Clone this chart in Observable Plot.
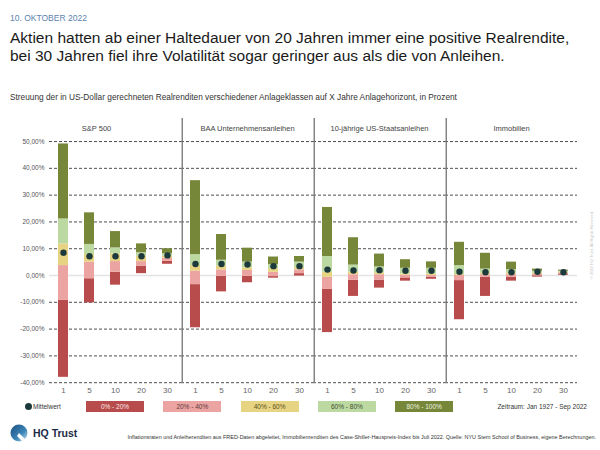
<!DOCTYPE html>
<html><head><meta charset="utf-8">
<script src="https://cdn.jsdelivr.net/npm/d3@7"></script>
<script src="https://cdn.jsdelivr.net/npm/@observablehq/plot@0.6"></script>
<style>
body{margin:0;width:600px;height:450px;position:relative;background:#fff;font-family:"Liberation Sans",Arial,Helvetica,sans-serif;overflow:hidden}
.abs{position:absolute;white-space:nowrap}
#date{left:10px;top:13px;font-size:8.5px;color:#5d83ad}
#title{left:10px;top:29px;font-size:15.5px;line-height:18px;color:#1a1a1a}
#sub{left:10px;top:92px;font-size:8.3px;color:#333}
#chart{left:0;top:110px}
#mean{left:25px;top:401px;font-size:6.5px;color:#333;display:flex;align-items:center;height:11px}
#mean span.d{display:inline-block;width:7px;height:7px;border-radius:50%;background:#1c3a3c;margin-right:1px}
#legend{left:86px;top:401px;display:flex;gap:19.3px}
#legend div{width:58px;height:11px;line-height:11px;text-align:center;font-size:6.5px}
#period{right:13px;top:403px;font-size:6.5px;color:#333}
#logo{left:10px;top:424px}
#brand{left:33px;top:427px;font-size:10.5px;font-weight:bold;color:#1b2b45}
#foot{right:4px;top:434px;font-size:5.45px;color:#333}
#copy{left:591px;top:245px;font-size:4px;color:#c4c4c4;transform:translate(-50%,-50%) rotate(-90deg);transform-origin:center}
</style></head>
<body>
<div id="date" class="abs">10. OKTOBER 2022</div>
<div id="title" class="abs">Aktien hatten ab einer Haltedauer von 20 Jahren immer eine positive Realrendite,<br>bei 30 Jahren fiel ihre Volatilität sogar geringer aus als die von Anleihen.</div>
<div id="sub" class="abs">Streuung der in US-Dollar gerechneten Realrenditen verschiedener Anlageklassen auf X Jahre Anlagehorizont, in Prozent</div>
<div id="chart" class="abs"></div>
<div id="mean" class="abs"><span class="d"></span>Mittelwert</div>
<div id="legend" class="abs"></div>
<div id="period" class="abs">Zeitraum: Jan 1927 - Sep 2022</div>
<svg id="logo" class="abs" width="20" height="20" viewBox="0 0 20 20">
<defs><linearGradient id="lg" x1="0" y1="0" x2="1" y2="1"><stop offset="0" stop-color="#1b4f7e"/><stop offset="0.6" stop-color="#3d86b8"/><stop offset="1" stop-color="#d6e8f3"/></linearGradient></defs>
<circle cx="9" cy="9" r="8.5" fill="url(#lg)"/>
<path d="M9 9 L19 19 L14 19 L7 12 Z" fill="#fff"/>
</svg>
<div id="brand" class="abs">HQ Trust</div>
<div id="foot" class="abs">Inflationsraten und Anleiherenditen aus FRED-Daten abgeleitet, Immobilienrenditen des Case-Shiller-Hauspreis-Index bis Juli 2022. Quelle: NYU Stern School of Business, eigene Berechnungen.</div>
<div id="copy" class="abs">© 2022 HQ Trust. All Rights Reserved.</div>
<script>
// Categories
const panels = ["S&P 500", "BAA Unternehmensanleihen", "10-jährige US-Staatsanleihen", "Immobilien"];
const horizons = ["1", "5", "10", "20", "30"];
const segmentLabels = ["0% - 20%", "20% - 40%", "40% - 60%", "60% - 80%", "80% - 100%"];
const segmentColors = ["#b84b4b", "#eca4a3", "#e6d482", "#bdd9a2", "#76873a"];
const segmentTextColors = ["#fbe9e9", "#5a3a3a", "#5a5020", "#3f5030", "#eef2e0"];
const yTicks = [-40, -30, -20, -10, 0, 10, 20, 30, 40, 50];
const gridTicks = [-40, -30, -20, -10, 10, 20, 30, 40, 50];

// Quantiles per horizon: [min, p20, p40, p60, p80, max] in %
const sp500 = [
  [-38.0, -9.3, 3.7, 11.8, 21.1, 49.1],
  [-10.2, -1.2, 5.0, 7.8, 11.6, 23.4],
  [-3.6, 1.2, 5.2, 8.1, 10.3, 16.4],
  [0.7, 3.5, 5.2, 7.2, 8.5, 11.8],
  [4.2, 5.3, 6.5, 7.2, 8.1, 10.0]
];
const baa = [
  [-19.5, -3.4, 1.6, 3.7, 7.8, 35.4],
  [-6.1, -0.3, 2.1, 3.5, 5.7, 15.3],
  [-2.7, -0.3, 1.9, 2.9, 5.0, 10.2],
  [-1.0, -0.4, 1.2, 2.5, 4.1, 6.9],
  [-0.2, 0.7, 2.1, 2.9, 5.0, 7.1]
];
const treasury = [
  [-21.3, -5.2, -0.7, 1.2, 7.1, 25.4],
  [-7.8, -1.8, 0.3, 1.2, 3.9, 14.1],
  [-4.7, -1.7, 0.3, 1.0, 3.2, 8.0],
  [-2.1, -0.9, 0.1, 0.6, 2.7, 5.9],
  [-1.4, -0.6, 0.0, 0.5, 2.7, 5.1]
];
const realEstate = [
  [-16.5, -1.9, 0.0, 0.4, 3.7, 12.4],
  [-7.8, -0.7, 0.3, 0.9, 2.4, 8.3],
  [-2.1, -0.6, 0.3, 0.9, 2.2, 5.0],
  [-0.6, -0.1, 0.4, 0.9, 1.6, 2.4],
  [0.1, 0.6, 1.0, 1.3, 1.6, 2.0]
];
// Means per horizon
const sp500Means = [8.5, 7.2, 7.2, 7.2, 7.5];
const baaMeans = [4.3, 4.3, 4.1, 3.5, 3.5];
const treasuryMeans = [2.2, 1.9, 2.0, 1.8, 1.8];
const realEstateMeans = [1.4, 1.2, 1.2, 1.4, 1.2];

const quantiles = [sp500, baa, treasury, realEstate];
const means = [sp500Means, baaMeans, treasuryMeans, realEstateMeans];

const segments = [];
const meanRows = [];
panels.forEach((p, pi) => {
  horizons.forEach((h, hi) => {
    const q = quantiles[pi][hi];
    for (let k = 0; k < 5; k++) segments.push({panel: p, horizon: h, segment: segmentLabels[k], y1: q[k], y2: q[k + 1]});
    meanRows.push({panel: p, horizon: h, mean: means[pi][hi]});
  });
});

const fmt = d => d.toFixed(2).replace(".", ",") + "%";

const chart = Plot.plot({
  width: 600, height: 290,
  marginTop: 8, marginBottom: 17, marginLeft: 48, marginRight: 22,
  style: {fontFamily: "Liberation Sans, Arial, sans-serif", background: "transparent", overflow: "visible"},
  fx: {domain: panels, padding: 0, axis: null},
  x: {domain: horizons, paddingInner: 0.6, paddingOuter: 0.3, label: null},
  y: {domain: [-40.3, 58.6], label: null},
  color: {domain: segmentLabels, range: segmentColors},
  marks: [
    Plot.gridY(gridTicks, {stroke: "#3a3a3a", strokeOpacity: 1, strokeDasharray: "3,2", strokeWidth: 0.9}),
    Plot.ruleY([0], {stroke: "#e3e3e3", strokeWidth: 1.6}),
    Plot.ruleX(panels.slice(1), {fx: d => d, x: () => horizons[0], dx: -13.25, stroke: "#7d7d7d", strokeWidth: 1.4}),
    Plot.barY(segments, {fx: "panel", x: "horizon", y1: "y1", y2: "y2", fill: "segment"}),
    Plot.dot(meanRows, {fx: "panel", x: "horizon", y: "mean", r: 3.2, fill: "#1c3a3c", stroke: null}),
    Plot.text(panels.slice(0, 1), {fx: d => d, text: d => d, frameAnchor: "top", lineAnchor: "middle", dy: 10, dx: -19, fontSize: 7.5, fill: "#444"}),
    Plot.text(panels.slice(1), {fx: d => d, text: d => d, frameAnchor: "top", lineAnchor: "middle", dy: 10, fontSize: 7.5, fill: "#444"}),
    Plot.axisY(yTicks, {tickSize: 0, tickPadding: 5, tickFormat: fmt, fontSize: 6.5, color: "#555", label: null}),
    Plot.axisX({tickSize: 0, tickPadding: 4, fontSize: 8, color: "#666", label: null})
  ]
});
document.getElementById("chart").appendChild(chart);

const legend = document.getElementById("legend");
segmentLabels.forEach((s, i) => {
  const d = document.createElement("div");
  d.textContent = s;
  d.style.background = segmentColors[i];
  d.style.color = segmentTextColors[i];
  legend.appendChild(d);
});
</script>
</body></html>
